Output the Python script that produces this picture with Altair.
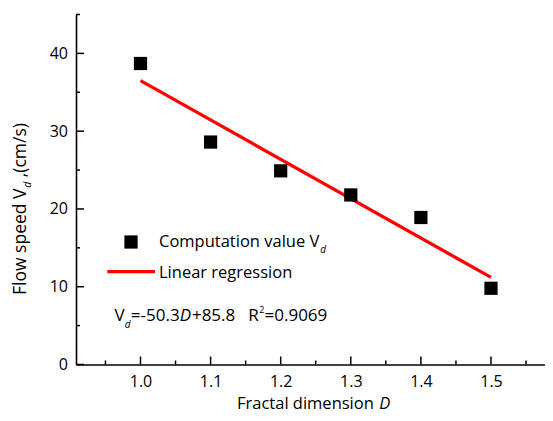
import altair as alt
import pandas as pd

# ---- data ----
fractal_D = [1.0, 1.1, 1.2, 1.3, 1.4, 1.5]
flow_speed = [38.7, 28.6, 24.9, 21.8, 18.9, 9.8]
fit_D = [1.0, 1.5]
fit_V = [36.5, 11.2]
x_tick_labels = [1.0, 1.1, 1.2, 1.3, 1.4, 1.5]
x_minor = [0.95, 1.05, 1.15, 1.25, 1.35, 1.45, 1.55]
y_tick_labels = [0, 10, 20, 30, 40]
y_minor = [5, 15, 25, 35, 45]

FONT = "Open Sans"
W, H = 469, 350
xs = alt.Scale(domain=[0.908, 0.908 + W / 701.0], nice=False, zero=False)
ys = alt.Scale(domain=[0, 45], nice=False, zero=True)

pts = pd.DataFrame({"D": fractal_D, "V": flow_speed})
fit = pd.DataFrame({"D": fit_D, "V": fit_V})

base_x = alt.X("D:Q", scale=xs, axis=alt.Axis(
    values=x_tick_labels, format=".1f", title=None, ticks=False, grid=False,
    domainColor="black", domainWidth=1.6, labelFont=FONT, labelFontSize=16,
    labelColor="black", labelPadding=9))
base_y = alt.Y("V:Q", scale=ys, axis=alt.Axis(
    values=y_tick_labels, title=None, ticks=False, grid=False,
    domainColor="black", domainWidth=1.6, labelFont=FONT, labelFontSize=16,
    labelColor="black", labelPadding=8.5))

line = alt.Chart(fit).mark_line(color="#ff0000", strokeWidth=3.3).encode(x=base_x, y=base_y)
squares = alt.Chart(pts).mark_square(color="black", size=175, opacity=1).encode(
    x=alt.X("D:Q", scale=xs), y=alt.Y("V:Q", scale=ys))


def yticks(vals, length):
    return alt.Chart(pd.DataFrame({"V": vals})).mark_rule(color="black", strokeWidth=1.5).encode(
        y=alt.Y("V:Q", scale=ys), x=alt.value(0), x2=alt.value(length))


def xticks(vals, length):
    return alt.Chart(pd.DataFrame({"D": vals})).mark_rule(color="black", strokeWidth=1.5).encode(
        x=alt.X("D:Q", scale=xs), y=alt.value(H), y2=alt.value(H - length))


# plot origin on the page
OX, OY = 76, 14.5

# approximate Open Sans advance widths (em) for chaining text pieces
EM = {" ": .26, ".": .266, ",": .244, "=": .572, "-": .322, "+": .572, "(": .297, ")": .297,
      "/": .367, "V": .592, "D": .719, "R": .619, "C": .633, "F": .549, "L": .529,
      "a": .556, "c": .478, "d": .614, "e": .561, "g": .548, "i": .253, "l": .253, "m": .946,
      "n": .619, "o": .602, "p": .614, "r": .408, "s": .489, "t": .351, "u": .619, "v": .495,
      "w": .778}


def width(s, size):
    return sum(EM.get(c, .572) for c in s) * size


def txt(s, px, py, size=17, style="normal", angle=0, align="left"):
    return alt.Chart(pd.DataFrame({"t": [s]})).mark_text(
        font=FONT, fontSize=size, fontStyle=style, angle=angle, align=align,
        baseline="alphabetic", color="black").encode(
        text="t:N", x=alt.value(px - OX), y=alt.value(py - OY))


def chain(pieces, x0, y0):
    """pieces: (text, size, style, dy, gap_after) laid out left to right"""
    out, x = [], x0
    for s, size, style, dy, gap in pieces:
        out.append(txt(s, x, y0 + dy, size=size, style=style))
        x += width(s, size) + gap
    return out


def vchain(pieces, x0, y0):
    """rotated pieces, reading bottom to top; dx moves the baseline to the right"""
    out, y = [], y0
    for s, size, style, dx, gap in pieces:
        out.append(txt(s, x0 + dx, y, size=size, style=style, angle=270))
        y -= width(s, size) + gap
    return out


legend_sq = alt.Chart(pd.DataFrame({"k": ["Computation value"]})).mark_square(
    color="black", size=175, opacity=1).encode(x=alt.value(131 - OX), y=alt.value(242 - OY))
legend_ln = alt.Chart(pd.DataFrame({"k": ["Linear regression"]})).mark_rule(
    color="#ff0000", strokeWidth=3.3).encode(
    x=alt.value(107.3 - OX), x2=alt.value(155 - OX), y=alt.value(271.7 - OY))

texts = []
texts += chain([("Computation value V", 16.5, "normal", 0, 0.5),
                ("d", 10, "italic", 6, 0)], 159, 247.3)
texts += [txt("Linear regression", 159, 278.3, size=16.5)]
texts += chain([("V", 17, "normal", 0, 0), ("d", 10, "italic", 7, 0),
                ("=-50.3", 17, "normal", 0, 0), ("D", 17, "italic", 0, 0),
                ("+85.8", 17, "normal", 0, 13), ("R", 17, "normal", 0, 0.5),
                ("2", 9, "normal", -8.5, 0),
                ("=0.9069", 17, "normal", 0, 0)], 114.6, 321)
texts += chain([("Fractal dimension ", 16.5, "normal", 0, 0),
                ("D", 16.5, "italic", 0, 0)], 237, 408.5)
texts += vchain([("Flow speed V", 17.5, "normal", 0, 0), ("d", 10.5, "italic", 5, 4),
                 (",(cm/s)", 17.5, "normal", 0, 0)], 26, 295)

chart = alt.layer(
    line, squares,
    yticks(y_tick_labels, 8), yticks(y_minor, 4),
    xticks(x_tick_labels, 8), xticks(x_minor, 4),
    legend_sq, legend_ln, *texts
).properties(
    width=W, height=H,
    autosize=alt.AutoSizeParams(type="none"),
    padding={"left": 68, "top": 6.5, "right": 0, "bottom": 48.5},
    background="white",
).configure_view(stroke=None)

chart.save("out.html", embed_options={"renderer": "svg", "actions": False})
